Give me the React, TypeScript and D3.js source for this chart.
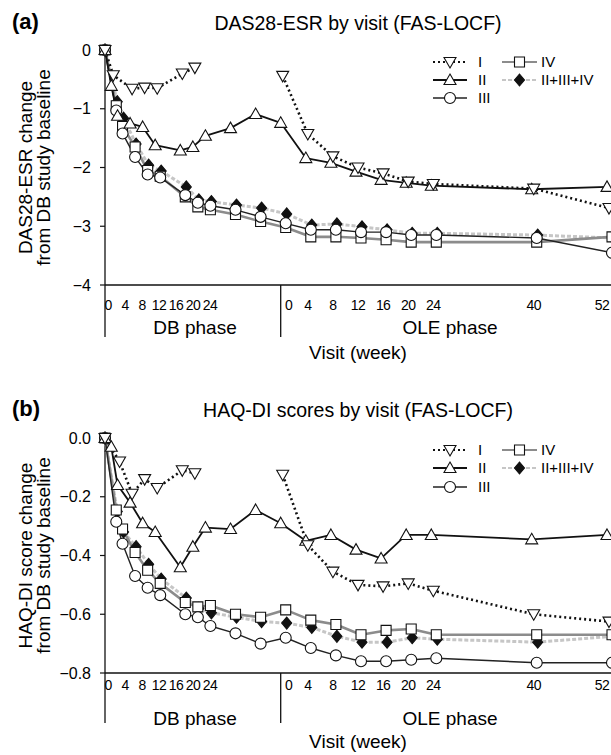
import React, { useEffect } from "react";
import * as d3 from "d3";

// ---------- data ----------
const dbWeeks = [0, 1, 2, 4, 6, 8, 12, 14, 16, 20, 24];
const oleWeeks = [0, 4, 8, 12, 16, 20, 24, 40, 52];
const dbTickLabels = [0, 4, 8, 12, 16, 20, 24];
const oleTickLabels = [0, 4, 8, 12, 16, 20, 24, 40, 52];
const seriesNames = ["I", "II", "III", "IV", "II+III+IV"];

// (a) DAS28-ESR
const dasI_db = [0, -0.43, null, -0.66, -0.64, -0.65, -0.4, -0.3, null, null, null];
const dasI_ole = [-0.44, -1.43, -1.81, -2.0, -2.1, -2.24, -2.28, -2.36, -2.69];
const dasII_db = [0, -0.61, -1.12, -1.25, -1.31, -1.62, -1.71, -1.65, -1.46, -1.33, -1.09];
const dasII_ole = [-1.24, -1.84, -1.92, -2.07, -2.21, -2.26, -2.31, -2.37, -2.33];
const dasIII_db = [0, -1.03, -1.42, -1.82, -2.12, -2.17, -2.47, -2.6, -2.65, -2.72, -2.84];
const dasIII_ole = [-2.95, -3.06, -3.06, -3.1, -3.1, -3.15, -3.15, -3.2, -3.45];
const dasIV_db = [0, -0.95, -1.3, -1.65, -2.05, -2.15, -2.5, -2.67, -2.72, -2.8, -2.92];
const dasIV_ole = [-3.02, -3.18, -3.18, -3.2, -3.23, -3.27, -3.27, -3.27, -3.18];
const dasAll_db = [0, -0.88, -1.16, -1.6, -1.96, -2.06, -2.33, -2.55, -2.58, -2.64, -2.69];
const dasAll_ole = [-2.79, -2.98, -2.96, -3.01, -3.06, -3.12, -3.12, -3.15, -3.2];
const dasTicks = [0, -1, -2, -3, -4];

// (b) HAQ-DI
const haqI_db = [0, null, -0.08, -0.19, -0.14, -0.17, -0.11, -0.12, null, null, null];
const haqI_ole = [-0.125, -0.365, -0.455, -0.5, -0.505, -0.495, -0.52, -0.6, -0.625];
const haqII_db = [0, -0.03, -0.16, -0.22, -0.29, -0.32, -0.44, -0.37, -0.305, -0.31, -0.245];
const haqII_ole = [-0.29, -0.35, -0.33, -0.38, -0.41, -0.33, -0.33, -0.345, -0.33];
const haqIII_db = [0, -0.285, -0.36, -0.47, -0.51, -0.535, -0.6, -0.61, -0.64, -0.665, -0.7];
const haqIII_ole = [-0.68, -0.715, -0.74, -0.76, -0.76, -0.755, -0.75, -0.765, -0.765];
const haqIV_db = [0, -0.245, -0.31, -0.39, -0.45, -0.495, -0.56, -0.575, -0.57, -0.6, -0.61];
const haqIV_ole = [-0.585, -0.62, -0.635, -0.67, -0.655, -0.65, -0.67, -0.67, -0.67];
const haqAll_db = [0, -0.25, -0.32, -0.37, -0.43, -0.48, -0.545, -0.58, -0.595, -0.61, -0.625];
const haqAll_ole = [-0.63, -0.645, -0.675, -0.695, -0.695, -0.68, -0.685, -0.695, -0.675];
const haqTicks = [0, -0.2, -0.4, -0.6, -0.8];

// ---------- styles ----------
const W = 611;
const H = 755;
const FONT = "Arial, 'Liberation Sans', Helvetica, sans-serif";
const OLE_OFFSET = 28;

type Style = { stroke: string; width: number; dash?: string; marker: string; fill: string; dodge: number; connect: boolean };
const styles: Record<string, Style> = {
  I: { stroke: "#111", width: 2.6, dash: "2,3", marker: "triDown", fill: "#fff", dodge: 2, connect: false },
  II: { stroke: "#111", width: 1.8, marker: "triUp", fill: "#fff", dodge: 0, connect: true },
  III: { stroke: "#222", width: 1.4, marker: "circle", fill: "#fff", dodge: 5, connect: true },
  IV: { stroke: "#8c8c8c", width: 2.6, marker: "square", fill: "#fff", dodge: 5, connect: true },
  "II+III+IV": { stroke: "#c6c6c6", width: 3, dash: "4,2", marker: "diamond", fill: "#111", dodge: 6, connect: true },
};
const drawOrder = ["II+III+IV", "IV", "III", "II", "I"];

const markerPath: Record<string, string> = {
  triUp: "M0,-6L6,4.5L-6,4.5Z",
  triDown: "M0,6L6,-4.5L-6,-4.5Z",
  square: "M-5,-5L5,-5L5,5L-5,5Z",
  diamond: "M0,-6L5,0L0,6L-5,0Z",
};

function Marker({ type, fill, x, y }: { type: string; fill: string; x: number; y: number }) {
  if (type === "circle")
    return <circle cx={x} cy={y} r={5.5} fill={fill} stroke="#111" strokeWidth={1.1} />;
  return <path d={markerPath[type]} transform={`translate(${x},${y})`} fill={fill} stroke="#111" strokeWidth={1.1} />;
}

const xScale = d3.scaleLinear().domain([0, 80]).range([105, 607]);
const dbLabelScale = d3.scaleLinear().domain([0, 24]).range([108, 210]);

type PanelCfg = {
  key: string;
  label: string;
  title: string;
  yTitle: [string, string];
  domain: [number, number];
  yRange: [number, number];
  ticks: number[];
  fmt: (v: number) => string;
  data: Record<string, { db: (number | null)[]; ole: (number | null)[] }>;
  titleY: number;
  legendY: number[];
  tickLabelY: number;
  phaseY: number;
  visitY: number;
  lineBottom: number;
};

const panels: PanelCfg[] = [
  {
    key: "a",
    label: "(a)",
    title: "DAS28-ESR by visit (FAS-LOCF)",
    yTitle: ["DAS28-ESR change", "from DB study baseline"],
    domain: [-4, 0],
    yRange: [285, 50],
    ticks: dasTicks,
    fmt: d3.format("d"),
    data: {
      I: { db: dasI_db, ole: dasI_ole },
      II: { db: dasII_db, ole: dasII_ole },
      III: { db: dasIII_db, ole: dasIII_ole },
      IV: { db: dasIV_db, ole: dasIV_ole },
      "II+III+IV": { db: dasAll_db, ole: dasAll_ole },
    },
    titleY: 30,
    legendY: [62, 80, 98],
    tickLabelY: 310,
    phaseY: 334,
    visitY: 359,
    lineBottom: 337,
  },
  {
    key: "b",
    label: "(b)",
    title: "HAQ-DI scores by visit (FAS-LOCF)",
    yTitle: ["HAQ-DI score change", "from DB study baseline"],
    domain: [-0.8, 0],
    yRange: [673, 438],
    ticks: haqTicks,
    fmt: d3.format(".1f"),
    data: {
      I: { db: haqI_db, ole: haqI_ole },
      II: { db: haqII_db, ole: haqII_ole },
      III: { db: haqIII_db, ole: haqIII_ole },
      IV: { db: haqIV_db, ole: haqIV_ole },
      "II+III+IV": { db: haqAll_db, ole: haqAll_ole },
    },
    titleY: 417,
    legendY: [450, 468, 487],
    tickLabelY: 690,
    phaseY: 725,
    visitY: 748,
    lineBottom: 723,
  },
];

function Panel({ cfg }: { cfg: PanelCfg }) {
  const y = d3.scaleLinear().domain(cfg.domain).range(cfg.yRange);
  const y0 = y(0);
  const yBot = y(cfg.domain[0]);
  const line = d3.line<[number, number]>().x((d) => d[0]).y((d) => d[1]);

  const pts = (name: string, phase: "db" | "ole") => {
    const st = styles[name];
    const weeks = phase === "db" ? dbWeeks : oleWeeks;
    const vals = cfg.data[name][phase];
    const out: [number, number][] = [];
    weeks.forEach((w, i) => {
      const v = vals[i];
      if (v === null || v === undefined) return;
      const xv = phase === "db" ? w : OLE_OFFSET + w;
      const dx = phase === "db" && w === 0 ? 0 : st.dodge;
      out.push([xScale(xv) + dx, y(v)]);
    });
    return out;
  };

  const sepX = xScale(OLE_OFFSET);

  const legItems = [
    { name: "I", col: 0, row: 0 },
    { name: "II", col: 0, row: 1 },
    { name: "III", col: 0, row: 2 },
    { name: "IV", col: 1, row: 0 },
    { name: "II+III+IV", col: 1, row: 1 },
  ];
  const legCols = [
    { x1: 433, x2: 467, tx: 478 },
    { x1: 502, x2: 537, tx: 541 },
  ];

  return (
    <g>
      <text x={12} y={cfg.titleY - 1} fontSize={22} fontWeight="bold" fontFamily={FONT}>
        {cfg.label}
      </text>
      <text x={358} y={cfg.titleY} fontSize={19.5} textAnchor="middle" fontFamily={FONT}>
        {cfg.title}
      </text>

      <text transform={`translate(32,${(y0 + yBot) / 2}) rotate(-90)`} fontSize={19} textAnchor="middle" fontFamily={FONT}>
        {cfg.yTitle[0]}
      </text>
      <text transform={`translate(50,${(y0 + yBot) / 2}) rotate(-90)`} fontSize={19} textAnchor="middle" fontFamily={FONT}>
        {cfg.yTitle[1]}
      </text>

      <line x1={105} x2={105} y1={y0 - 2} y2={cfg.lineBottom} stroke="#111" strokeWidth={1.3} />
      <line x1={105} x2={W} y1={yBot} y2={yBot} stroke="#111" strokeWidth={1.5} />
      <line x1={sepX} x2={sepX} y1={yBot} y2={cfg.lineBottom} stroke="#111" strokeWidth={1.3} />
      {cfg.ticks.map((t) => (
        <g key={t}>
          <line x1={100} x2={105} y1={y(t)} y2={y(t)} stroke="#111" strokeWidth={1.2} />
          <text x={91} y={y(t) + 5.5} fontSize={16} textAnchor="end" fontFamily={FONT}>
            {cfg.fmt(t)}
          </text>
        </g>
      ))}
      {dbTickLabels.map((t) => (
        <text
          key={"db" + t}
          x={dbLabelScale(t)}
          y={cfg.tickLabelY}
          fontSize={14}
          letterSpacing={-0.6}
          textAnchor="middle"
          fontFamily={FONT}
        >
          {t}
        </text>
      ))}
      {oleTickLabels.map((t) => (
        <text
          key={"ole" + t}
          x={Math.min(Math.max(xScale(OLE_OFFSET + t) + 2, sepX + 8), W - 9)}
          y={cfg.tickLabelY}
          fontSize={14}
          letterSpacing={-0.6}
          textAnchor="middle"
          fontFamily={FONT}
        >
          {t}
        </text>
      ))}
      <text x={195} y={cfg.phaseY} fontSize={19} textAnchor="middle" fontFamily={FONT}>
        DB phase
      </text>
      <text x={450} y={cfg.phaseY} fontSize={19} textAnchor="middle" fontFamily={FONT}>
        OLE phase
      </text>
      <text x={358} y={cfg.visitY} fontSize={19} textAnchor="middle" fontFamily={FONT}>
        Visit (week)
      </text>

      {drawOrder.map((name) => {
        const st = styles[name];
        const db = pts(name, "db");
        const ole = pts(name, "ole");
        const paths = st.connect ? [db.concat(ole)] : [db, ole];
        return (
          <g key={"l" + name}>
            {paths.map((p, i) => (
              <path
                key={i}
                d={line(p) || ""}
                fill="none"
                stroke={st.stroke}
                strokeWidth={st.width}
                strokeDasharray={st.dash}
                strokeLinejoin="round"
              />
            ))}
          </g>
        );
      })}
      {drawOrder.map((name) => {
        const st = styles[name];
        const all = pts(name, "db").concat(pts(name, "ole"));
        return (
          <g key={"m" + name}>
            {all.map((p, i) => (
              <Marker key={i} type={st.marker} fill={st.fill} x={p[0]} y={p[1]} />
            ))}
          </g>
        );
      })}

      {legItems.map((it) => {
        const st = styles[it.name];
        const c = legCols[it.col];
        const ly = cfg.legendY[it.row];
        return (
          <g key={"leg" + it.name}>
            <line x1={c.x1} x2={c.x2} y1={ly} y2={ly} stroke={st.stroke} strokeWidth={Math.min(st.width, 2.2)} strokeDasharray={st.dash} />
            <Marker type={st.marker} fill={st.fill} x={(c.x1 + c.x2) / 2} y={ly} />
            <text x={c.tx} y={ly + 5} fontSize={15} fontFamily={FONT}>
              {it.name}
            </text>
          </g>
        );
      })}
    </g>
  );
}

export default function App() {
  useEffect(() => {
    document.body.style.margin = "0";
  }, []);
  return (
    <svg width={W} height={H} viewBox={`0 0 ${W} ${H}`} style={{ display: "block", background: "#fff" }}>
      <rect width={W} height={H} fill="#fff" />
      {panels.map((p) => (
        <Panel key={p.key} cfg={p} />
      ))}
    </svg>
  );
}
